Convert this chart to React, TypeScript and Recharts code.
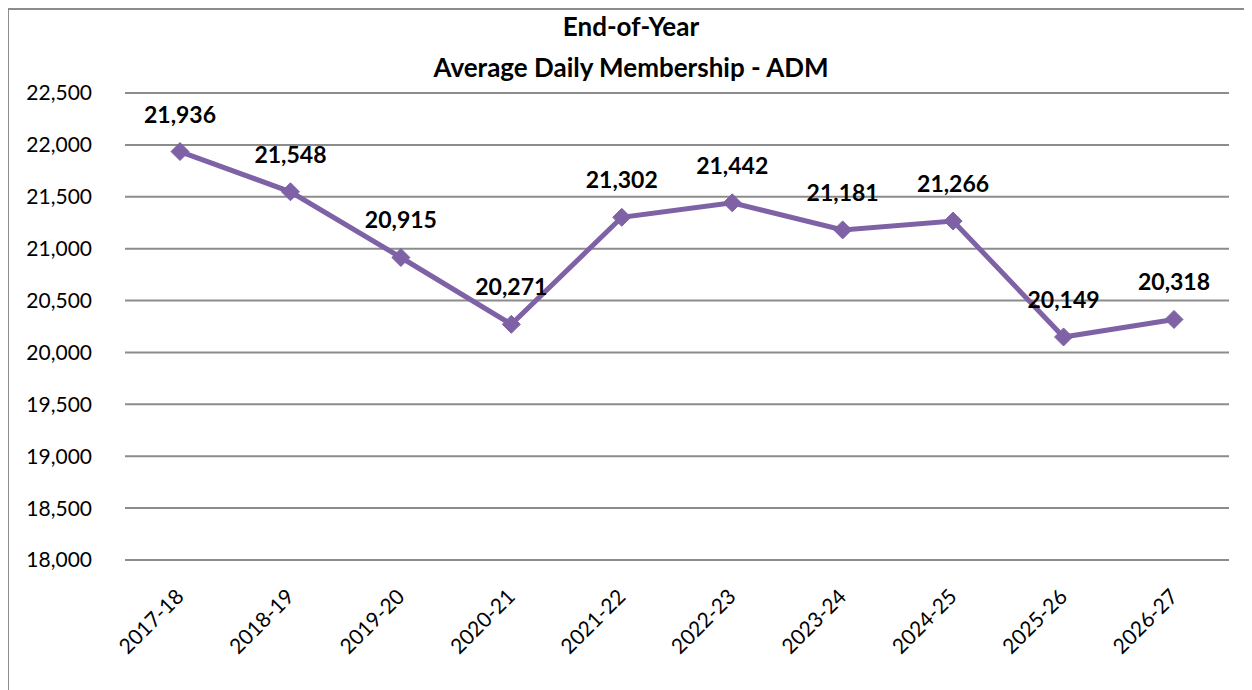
import { LineChart, Line, XAxis, YAxis, CartesianGrid, LabelList } from "recharts";

const PURPLE = "#7e62a5";
const FONT = "Lato, 'Open Sans', sans-serif";

const years = ["2017-18", "2018-19", "2019-20", "2020-21", "2021-22", "2022-23", "2023-24", "2024-25", "2025-26", "2026-27"];
const adm = [21936, 21548, 20915, 20271, 21302, 21442, 21181, 21266, 20149, 20318];
const yTicks = [18000, 18500, 19000, 19500, 20000, 20500, 21000, 21500, 22000, 22500];

const data = years.map((y, i) => ({ year: y, adm: adm[i] }));

function Diamond(props: { cx?: number; cy?: number }) {
  const { cx, cy } = props;
  if (cx == null || cy == null) return null;
  const r = 9;
  return (
    <polygon
      points={`${cx},${cy - r} ${cx + r},${cy} ${cx},${cy + r} ${cx - r},${cy}`}
      fill={PURPLE}
      stroke={PURPLE}
    />
  );
}

function XTick(props: { x?: number; y?: number; payload?: { value: string } }) {
  const { x = 0, y = 0, payload } = props;
  return (
    <text
      x={x + 5}
      y={y + 30}
      transform={`rotate(-45, ${x + 5}, ${y + 30})`}
      textAnchor="end"
      fontSize={21}
      fontFamily={FONT}
      fill="#000"
    >
      {payload?.value}
    </text>
  );
}

export default function App() {
  return (
    <div
      style={{
        position: "relative",
        width: 1244,
        height: 700,
        border: "2px solid #8c8c8c",
        borderRight: "none",
        boxSizing: "border-box",
        marginLeft: -1,
        background: "#fff",
      }}
    >
      <div
        style={{
          position: "absolute",
          top: -4,
          left: 0,
          width: 1244,
          textAlign: "center",
          fontFamily: FONT,
          fontWeight: 700,
          fontSize: 26,
          lineHeight: "41px",
          color: "#000",
        }}
      >
        <div>End-of-Year</div>
        <div>Average Daily Membership - ADM</div>
      </div>
      <LineChart
        width={1240}
        height={690}
        data={data}
        margin={{ top: 83, right: 20, left: 0, bottom: 30 }}
      >
        <CartesianGrid vertical={false} stroke="#8c8c8c" strokeWidth={2} />
        <XAxis
          dataKey="year"
          axisLine={false}
          tickLine={false}
          padding={{ left: 55, right: 55 }}
          height={110}
          tick={<XTick />}
          interval={0}
        />
        <YAxis
          domain={[18000, 22500]}
          ticks={yTicks}
          width={116}
          axisLine={false}
          tickLine={false}
          tickSize={0}
          tickMargin={33}
          tick={{ fontSize: 21, fontFamily: FONT, fill: "#000" }}
          tickFormatter={(v: number) => v.toLocaleString("en-US")}
        />
        <Line
          type="linear"
          dataKey="adm"
          stroke={PURPLE}
          strokeWidth={5}
          dot={<Diamond />}
          activeDot={false}
          isAnimationActive={false}
        >
          <LabelList
            dataKey="adm"
            position="top"
            offset={29}
            fontSize={23}
            fontWeight={700}
            fontFamily={FONT}
            fill="#000"
            formatter={(v: number) => v.toLocaleString("en-US")}
          />
        </Line>
      </LineChart>
    </div>
  );
}
